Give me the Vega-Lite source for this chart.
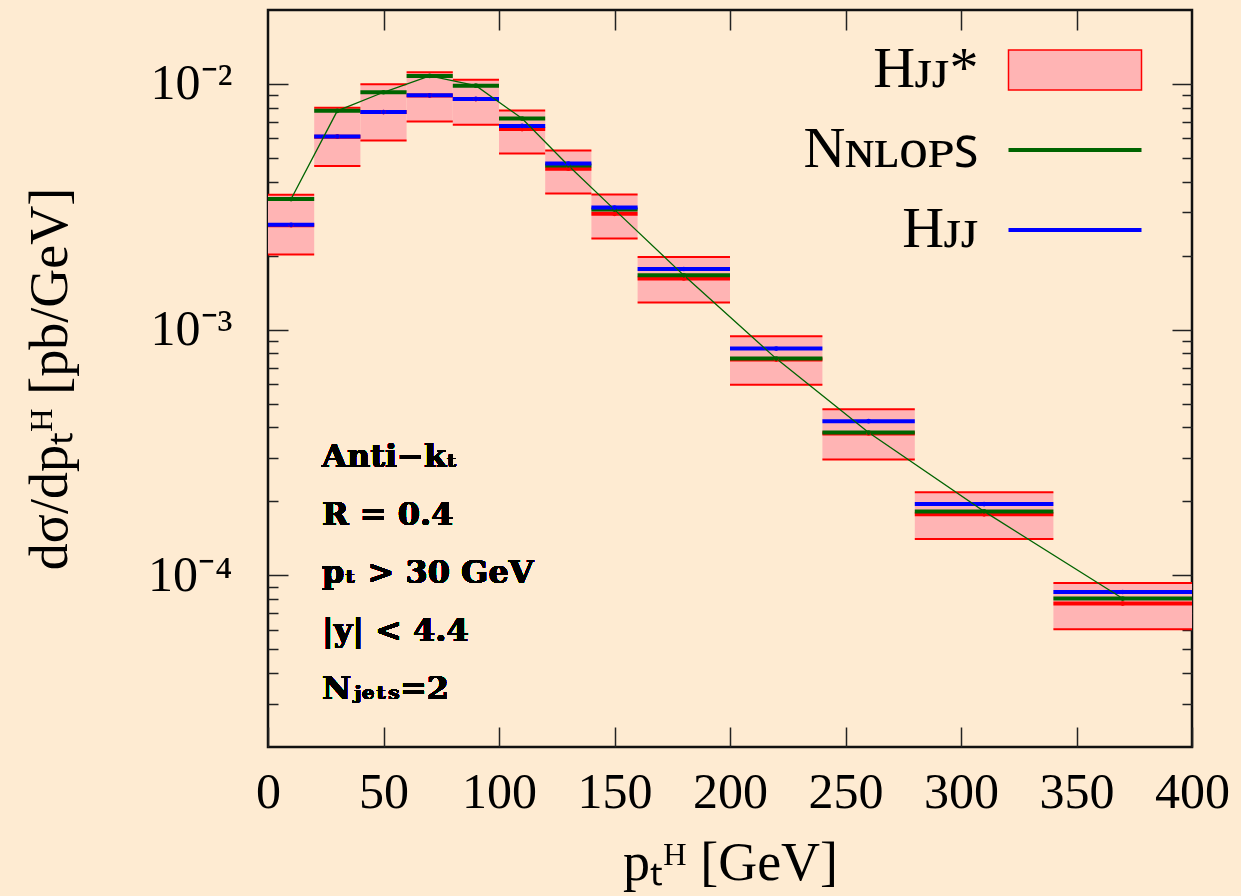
{
  "$schema": "https://vega.github.io/schema/vega-lite/v6.json",
  "width": 924,
  "height": 737,
  "autosize": {"type": "none"},
  "padding": {"left": 268, "top": 10, "right": 49, "bottom": 149},
  "background": "#feebd2",
  "config": {
    "view": {"stroke": "#111111", "strokeWidth": 2.5},
    "axis": {"grid": false, "domain": false, "tickColor": "#222222", "tickWidth": 1.5, "labelColor": "#000000", "titleColor": "#000000", "labelFont": "Liberation Serif", "titleFont": "Liberation Serif", "titleFontWeight": "normal", "labelFontSize": 50, "titleFontSize": 54, "labelFlush": false, "labelOverlap": false},
    "text": {"font": "Liberation Serif"}
  },
  "datasets": {
    "bins": [
      {"series": "Hjj*", "lo": 0, "hi": 20, "mid": 10, "y": 0.00266, "ylo": 0.00202, "yhi": 0.00354},
      {"series": "Hjj*", "lo": 20, "hi": 40, "mid": 30, "y": 0.00610, "ylo": 0.00464, "yhi": 0.00801},
      {"series": "Hjj*", "lo": 40, "hi": 60, "mid": 50, "y": 0.00768, "ylo": 0.00588, "yhi": 0.00997},
      {"series": "Hjj*", "lo": 60, "hi": 80, "mid": 70, "y": 0.00898, "ylo": 0.00703, "yhi": 0.01116},
      {"series": "Hjj*", "lo": 80, "hi": 100, "mid": 90, "y": 0.00868, "ylo": 0.00683, "yhi": 0.01041},
      {"series": "Hjj*", "lo": 100, "hi": 120, "mid": 110, "y": 0.00655, "ylo": 0.00521, "yhi": 0.00779},
      {"series": "Hjj*", "lo": 120, "hi": 140, "mid": 130, "y": 0.00452, "ylo": 0.00358, "yhi": 0.00536},
      {"series": "Hjj*", "lo": 140, "hi": 160, "mid": 150, "y": 0.00296, "ylo": 0.00235, "yhi": 0.00355},
      {"series": "Hjj*", "lo": 160, "hi": 200, "mid": 180, "y": 0.001616, "ylo": 0.00129, "yhi": 0.001975},
      {"series": "Hjj*", "lo": 200, "hi": 240, "mid": 220, "y": 0.000755, "ylo": 0.000597, "yhi": 0.000939},
      {"series": "Hjj*", "lo": 240, "hi": 280, "mid": 260, "y": 0.000378, "ylo": 0.000296, "yhi": 0.000474},
      {"series": "Hjj*", "lo": 280, "hi": 340, "mid": 310, "y": 0.000177, "ylo": 0.0001405, "yhi": 0.000218},
      {"series": "Hjj*", "lo": 340, "hi": 400, "mid": 370, "y": 0.0000767, "ylo": 0.0000603, "yhi": 0.000093},
      {"series": "NNLOPS", "lo": 0, "hi": 20, "mid": 10, "y": 0.00340},
      {"series": "NNLOPS", "lo": 20, "hi": 40, "mid": 30, "y": 0.00777},
      {"series": "NNLOPS", "lo": 40, "hi": 60, "mid": 50, "y": 0.00925},
      {"series": "NNLOPS", "lo": 60, "hi": 80, "mid": 70, "y": 0.01078},
      {"series": "NNLOPS", "lo": 80, "hi": 100, "mid": 90, "y": 0.00984},
      {"series": "NNLOPS", "lo": 100, "hi": 120, "mid": 110, "y": 0.00723},
      {"series": "NNLOPS", "lo": 120, "hi": 140, "mid": 130, "y": 0.00466},
      {"series": "NNLOPS", "lo": 140, "hi": 160, "mid": 150, "y": 0.00308},
      {"series": "NNLOPS", "lo": 160, "hi": 200, "mid": 180, "y": 0.001663},
      {"series": "NNLOPS", "lo": 200, "hi": 240, "mid": 220, "y": 0.000762},
      {"series": "NNLOPS", "lo": 240, "hi": 280, "mid": 260, "y": 0.000381},
      {"series": "NNLOPS", "lo": 280, "hi": 340, "mid": 310, "y": 0.000182},
      {"series": "NNLOPS", "lo": 340, "hi": 400, "mid": 370, "y": 0.0000804},
      {"series": "Hjj", "lo": 0, "hi": 20, "mid": 10, "y": 0.00267},
      {"series": "Hjj", "lo": 20, "hi": 40, "mid": 30, "y": 0.00611},
      {"series": "Hjj", "lo": 40, "hi": 60, "mid": 50, "y": 0.00769},
      {"series": "Hjj", "lo": 60, "hi": 80, "mid": 70, "y": 0.00899},
      {"series": "Hjj", "lo": 80, "hi": 100, "mid": 90, "y": 0.00869},
      {"series": "Hjj", "lo": 100, "hi": 120, "mid": 110, "y": 0.00675},
      {"series": "Hjj", "lo": 120, "hi": 140, "mid": 130, "y": 0.00474},
      {"series": "Hjj", "lo": 140, "hi": 160, "mid": 150, "y": 0.00314},
      {"series": "Hjj", "lo": 160, "hi": 200, "mid": 180, "y": 0.001765},
      {"series": "Hjj", "lo": 200, "hi": 240, "mid": 220, "y": 0.000837},
      {"series": "Hjj", "lo": 240, "hi": 280, "mid": 260, "y": 0.000424},
      {"series": "Hjj", "lo": 280, "hi": 340, "mid": 310, "y": 0.0001949},
      {"series": "Hjj", "lo": 340, "hi": 400, "mid": 370, "y": 0.0000855}
    ]
  },
  "data": {"name": "bins"},
  "resolve": {"axis": {"x": "independent", "y": "independent"}},
  "layer": [
    {
      "transform": [{"filter": "datum.series === 'Hjj*'"}],
      "mark": {"type": "rect"},
      "encoding": {
        "x": {"field": "lo", "type": "quantitative", "scale": {"domain": [0, 400], "nice": false, "zero": false},
          "axis": {"orient": "bottom", "values": [0, 50, 100, 150, 200, 250, 300, 350, 400], "tickSize": 20, "offset": -20, "labelPadding": 20, "title": "pₜᴴ [GeV]", "titlePadding": 19}},
        "x2": {"field": "hi"},
        "y": {"field": "ylo", "type": "quantitative", "scale": {"type": "log", "domain": [0.00002, 0.02], "nice": false},
          "axis": {"orient": "left", "values": [0.0001, 0.001, 0.01], "tickSize": 20, "offset": -20, "labelPadding": 36,
            "labelExpr": "datum.value < 0.0005 ? '10⁻⁴' : datum.value < 0.005 ? '10⁻³' : '10⁻²'",
            "title": "dσ/dpₜᴴ [pb/GeV]", "titlePadding": 70}},
        "y2": {"field": "yhi"},
        "fill": {"field": "series", "type": "nominal",
          "scale": {"domain": ["Hjj*"], "range": ["#ffb4b4"]},
          "legend": {
            "orient": "none", "legendX": 778, "legendY": 31, "title": null, "padding": 0,
            "symbolType": "M-3.325,-1H3.325V1H-3.325Z", "symbolSize": 1600, "symbolOffset": 0,
            "symbolStrokeColor": "#ff0000", "symbolStrokeWidth": 1.5, "symbolOpacity": 1,
            "labelAlign": "right", "labelOffset": -125.5, "labelLimit": 500,
            "labelFont": "Liberation Serif", "labelFontSize": 58, "labelColor": "#000000",
            "labelExpr": "'Hᴊᴊ*'"
          }
        }
      }
    },
    {
      "transform": [{"filter": "datum.series === 'Hjj*'"}],
      "mark": {"type": "rule", "stroke": "#ff0000", "strokeWidth": 2},
      "encoding": {
        "x": {"field": "lo", "type": "quantitative",
          "axis": {"orient": "top", "values": [50, 100, 150, 200, 250, 300, 350], "tickSize": 20, "offset": -20, "labels": false, "title": null}},
        "x2": {"field": "hi"},
        "y": {"field": "yhi", "type": "quantitative",
          "axis": {"orient": "right", "values": [0.0001, 0.001, 0.01], "tickSize": 20, "offset": -20, "labels": false, "title": null}}
      }
    },
    {
      "transform": [{"filter": "datum.series === 'Hjj*'"}],
      "mark": {"type": "rule", "stroke": "#ff0000", "strokeWidth": 2},
      "encoding": {
        "x": {"field": "lo", "type": "quantitative", "axis": null},
        "x2": {"field": "hi"},
        "y": {"field": "ylo", "type": "quantitative",
          "axis": {"orient": "left", "values": [0.00003, 0.00004, 0.00005, 0.00006, 0.00007, 0.00008, 0.00009, 0.0002, 0.0003, 0.0004, 0.0005, 0.0006, 0.0007, 0.0008, 0.0009, 0.002, 0.003, 0.004, 0.005, 0.006, 0.007, 0.008, 0.009], "tickSize": 10, "offset": -10, "labels": false, "title": null}}
      }
    },
    {
      "transform": [{"filter": "datum.series === 'Hjj*'"}],
      "mark": {"type": "rule", "stroke": "#ff0000", "strokeWidth": 4},
      "encoding": {
        "x": {"field": "lo", "type": "quantitative", "axis": null},
        "x2": {"field": "hi"},
        "y": {"field": "y", "type": "quantitative",
          "axis": {"orient": "right", "values": [0.00003, 0.00004, 0.00005, 0.00006, 0.00007, 0.00008, 0.00009, 0.0002, 0.0003, 0.0004, 0.0005, 0.0006, 0.0007, 0.0008, 0.0009, 0.002, 0.003, 0.004, 0.005, 0.006, 0.007, 0.008, 0.009], "tickSize": 10, "offset": -10, "labels": false, "title": null}}
      }
    },
    {
      "transform": [{"filter": "datum.series !== 'Hjj*'"}],
      "mark": {"type": "rule", "strokeWidth": 4},
      "encoding": {
        "x": {"field": "lo", "type": "quantitative", "axis": null},
        "x2": {"field": "hi"},
        "y": {"field": "y", "type": "quantitative", "axis": null},
        "color": {"field": "series", "type": "nominal",
          "scale": {"domain": ["NNLOPS", "Hjj"], "range": ["#006400", "#0000ff"]},
          "legend": {
            "orient": "none", "legendX": 778, "legendY": 111, "title": null, "padding": 0,
            "direction": "vertical",
            "symbolType": "M-3.325,0H3.325", "symbolSize": 1600, "symbolOffset": 0, "symbolStrokeWidth": 4, "symbolOpacity": 1,
            "labelAlign": "right", "labelOffset": -125.5, "labelLimit": 500,
            "labelFont": "Liberation Serif", "labelFontSize": 58, "labelColor": "#000000",
            "rowPadding": 22,
            "labelExpr": "datum.value === 'NNLOPS' ? 'Nɴʟᴏᴘꜱ' : 'Hᴊᴊ'"
          }
        }
      }
    },
    {
      "transform": [{"filter": "datum.series === 'NNLOPS'"}],
      "mark": {"type": "line", "stroke": "#006400", "strokeWidth": 1.3},
      "encoding": {
        "x": {"field": "mid", "type": "quantitative", "axis": null},
        "y": {"field": "y", "type": "quantitative", "axis": null}
      }
    },
    {
      "transform": [{"filter": "datum.series === 'Hjj*'"}],
      "mark": {"type": "point", "filled": true, "size": 22, "opacity": 1, "color": "#ff0000"},
      "encoding": {
        "x": {"field": "mid", "type": "quantitative", "axis": null},
        "y": {"field": "y", "type": "quantitative", "axis": null}
      }
    },
    {
      "transform": [{"filter": "datum.series !== 'Hjj*'"}],
      "mark": {"type": "point", "filled": true, "size": 22, "opacity": 1},
      "encoding": {
        "x": {"field": "mid", "type": "quantitative", "axis": null},
        "y": {"field": "y", "type": "quantitative", "axis": null},
        "color": {"field": "series", "type": "nominal", "legend": null}
      }
    },
    {
      "mark": {"type": "text", "align": "left", "baseline": "top", "fontSize": 32, "fontWeight": "bold", "lineHeight": 58, "font": "DejaVu Serif", "color": "#000000"},
      "encoding": {
        "x": {"datum": 23.4, "type": "quantitative", "axis": null},
        "y": {"datum": 0.00035, "type": "quantitative", "axis": null},
        "text": {"value": ["Anti−kₜ", "R = 0.4", "pₜ > 30  GeV", "|y| < 4.4", "Nⱼₑₜₛ=2"]}
      }
    }
  ]
}
